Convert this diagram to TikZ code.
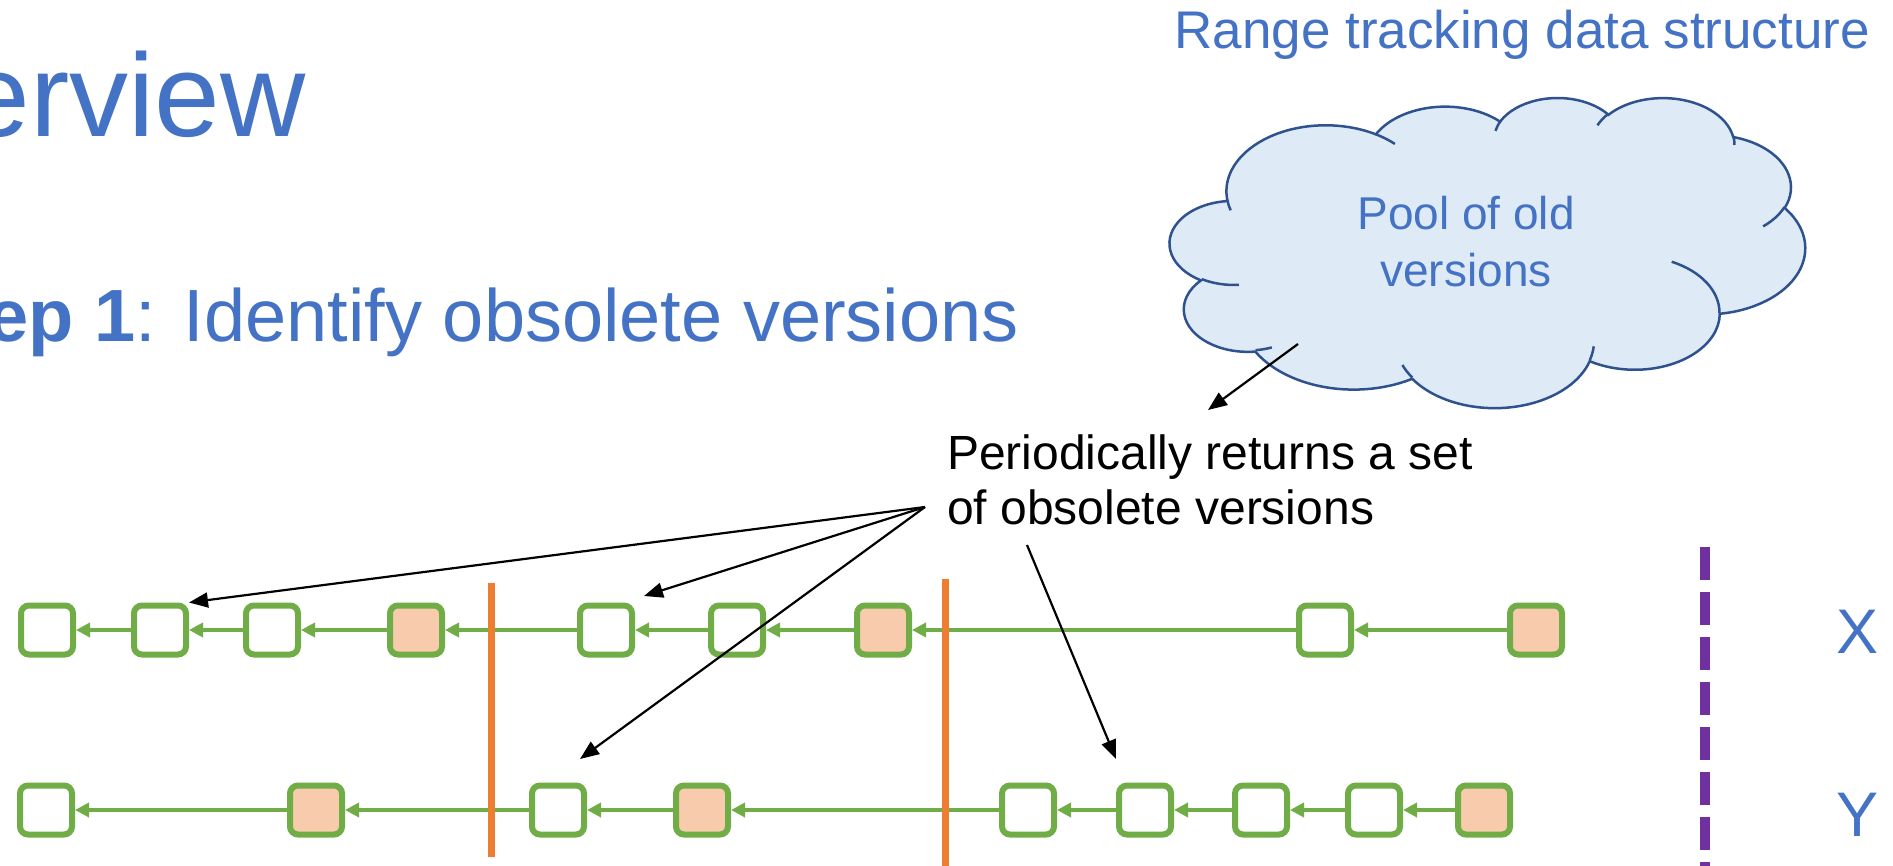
\documentclass[tikz,border=0pt]{standalone}
\usepackage{fontspec}
\setmainfont{Liberation Sans}
\usetikzlibrary{arrows.meta}

\definecolor{slideblue}{HTML}{4472C4}
\definecolor{verline}{HTML}{70AD47}
\definecolor{newfill}{HTML}{F8CBAD}
\definecolor{cutline}{HTML}{ED7D31}
\definecolor{boundline}{HTML}{7030A0}
\definecolor{cloudfill}{HTML}{DEEBF7}
\definecolor{cloudline}{HTML}{2F528F}

\newcommand{\fs}[1]{\fontsize{#1}{#1}\selectfont}

\tikzset{
  ver/.style={draw=verline, line width=6pt, rounded corners=8pt,
    minimum width=52pt, minimum height=49pt, inner sep=0pt,
    outer sep=3pt, fill=white},
  newver/.style={ver, fill=newfill},
  link/.style={draw=verline, line width=4.5pt,
    -{Triangle[length=14pt,width=14pt]}},
  cutmark/.style={draw=cutline, line width=7pt},
  boundary/.style={draw=boundline, line width=10pt,
    dash pattern=on 33pt off 12pt},
  pointer/.style={draw=black, line width=2.2pt,
    -{Triangle[length=19pt,width=15pt]}},
  cloudbody/.style={draw=cloudline, fill=cloudfill, line width=2.5pt},
  crease/.style={draw=cloudline, line width=2.5pt},
  bluetext/.style={text=slideblue, inner sep=0pt},
  blacktext/.style={text=black, inner sep=0pt},
}

\begin{document}
\begin{tikzpicture}[x=1pt, y=-1pt]
  \useasboundingbox (0,0) rectangle (1893,866);
  \fill[white] (0,0) rectangle (1893,866);
  \clip (0,0) rectangle (1893,866);

  % slide heading and step line (cut at the left edge)
  \node[bluetext, anchor=base east] (head) at (306,137) {\fs{118}erview};
  \node[bluetext, anchor=base east] (stepline) at (1019,342)
    {\fs{74}\textbf{ep 1}: Identify obsolete versions};

  % range tracking structure
  \node[bluetext, anchor=base east] (rtitle) at (1870,49)
    {\fs{53}Range tracking data structure};

  % cloud: chain of elliptic bumps plus the short inner creases
  \begin{scope}[shift={(1170,97)}, xscale=635/432, yscale=310/432]
    \path[cloudbody] (39.00,143.70)
      arc[start angle=-187.74, delta angle=128.10, x radius=67.53, y radius=91.90]
      arc[start angle=-152.03, delta angle=106.59, x radius=53.33, y radius=72.67]
      arc[start angle=-153.48, delta angle=116.16, x radius=43.65, y radius=59.45]
      arc[start angle=-139.69, delta angle=129.48, x radius=48.57, y radius=65.95]
      arc[start angle=-74.77,  delta angle=97.98,  x radius=53.33, y radius=72.73]
      arc[start angle=-37.52,  delta angle=119.38, x radius=67.75, y radius=92.20]
      arc[start angle=0.46,    delta angle=121.52, x radius=57.85, y radius=78.67]
      arc[start angle=16.84,   delta angle=129.40, x radius=67.52, y radius=92.15]
      arc[start angle=58.98,   delta angle=91.21,  x radius=77.20, y radius=105.43]
      arc[start angle=-276.69, delta angle=139.79, x radius=43.60, y radius=59.18]
      arc[start angle=-239.64, delta angle=143.75, x radius=43.45, y radius=59.45]
      -- cycle;
    \draw[crease]
      (46.93,261.77)  arc[start angle=85.55,   delta angle=34.79, x radius=43.45, y radius=59.45]
      (69.28,348.99)  arc[start angle=68.23,   delta angle=15.08, x radius=43.60, y radius=59.18]
      (164.78,390.90) arc[start angle=146.24,  delta angle=12.23, x radius=67.52, y radius=92.15]
      (288.27,347.51) arc[start angle=4.74,    delta angle=12.10, x radius=67.52, y radius=92.15]
      (341.29,229.54) arc[start angle=-64.03,  delta angle=64.49, x radius=57.85, y radius=78.67]
      (417.98,153.54) arc[start angle=23.21,   delta angle=26.44, x radius=53.33, y radius=72.73]
      (383.24,54.26)  arc[start angle=-10.21,  delta angle=11.03, x radius=48.57, y radius=65.95]
      (290.78,39.52)  arc[start angle=-156.29, delta angle=16.60, x radius=48.57, y radius=65.95]
      (221.41,47.20)  arc[start angle=-167.73, delta angle=14.25, x radius=43.65, y radius=59.45]
      (140.00,51.92)  arc[start angle=-59.64,  delta angle=13.90, x radius=67.53, y radius=91.90]
      (41.27,157.89)  arc[start angle=163.19,  delta angle=9.07,  x radius=67.53, y radius=91.90];
  \end{scope}
  \node[bluetext, anchor=base] (pool1) at (1466,230) {\fs{46}Pool of old};
  \node[bluetext, anchor=base] (pool2) at (1466,287) {\fs{46}versions};

  % annotation
  \node[blacktext, anchor=base west] (note1) at (947,469) {\fs{48}Periodically returns a set};
  \node[blacktext, anchor=base west] (note2) at (947,524) {\fs{48}of obsolete versions};

  % version chain of X
  \node[ver]    (x1) at (47,630)  {};
  \node[ver]    (x2) at (160,630) {};
  \node[ver]    (x3) at (272,630) {};
  \node[newver] (x4) at (416,630) {};
  \node[ver]    (x5) at (606,630) {};
  \node[ver]    (x6) at (737,630) {};
  \node[newver] (x7) at (883,630) {};
  \node[ver]    (x8) at (1325,630) {};
  \node[newver] (x9) at (1536,630) {};

  % version chain of Y
  \node[ver]    (y1) at (46,810)  {};
  \node[newver] (y2) at (316,810) {};
  \node[ver]    (y3) at (558,810) {};
  \node[newver] (y4) at (702,810) {};
  \node[ver]    (y5) at (1028,810) {};
  \node[ver]    (y6) at (1145,810) {};
  \node[ver]    (y7) at (1261,810) {};
  \node[ver]    (y8) at (1374,810) {};
  \node[newver] (y9) at (1484,810) {};

  \foreach \a/\b in {x2/x1,x3/x2,x4/x3,x5/x4,x6/x5,x7/x6,x8/x7,x9/x8,
                     y2/y1,y3/y2,y4/y3,y5/y4,y6/y5,y7/y6,y8/y7,y9/y8}
    \draw[link] (\a.west) -- (\b.east);

  % snapshot cuts
  \draw[cutmark] (491,583) -- (491,857);
  \draw[cutmark] (945,579) -- (945,870);

  % boundary of the tracked range
  \draw[boundary] (1705,547) -- (1705,880);
  \node[bluetext, anchor=base] (xlabel) at (1857,653) {\fs{63}X};
  \node[bluetext, anchor=base] (ylabel) at (1857,836) {\fs{63}Y};

  % pointers to obsolete versions
  \coordinate (src)  at (925,507);
  \coordinate (src2) at (1027,545);
  \coordinate (csrc) at (1298,344);
  \coordinate (ctip) at (1208,410);
  \coordinate (t2) at (644,596);
  \coordinate (t3) at (580,759);
  \coordinate (t4) at (1116,759);
  \draw[pointer] (csrc) -- (ctip);
  \draw[pointer] (src) -- (x2.north east);
  \draw[pointer] (src) -- (t2);
  \draw[pointer] (src) -- (t3);
  \draw[pointer] (src2) -- (t4);
\end{tikzpicture}
\end{document}
